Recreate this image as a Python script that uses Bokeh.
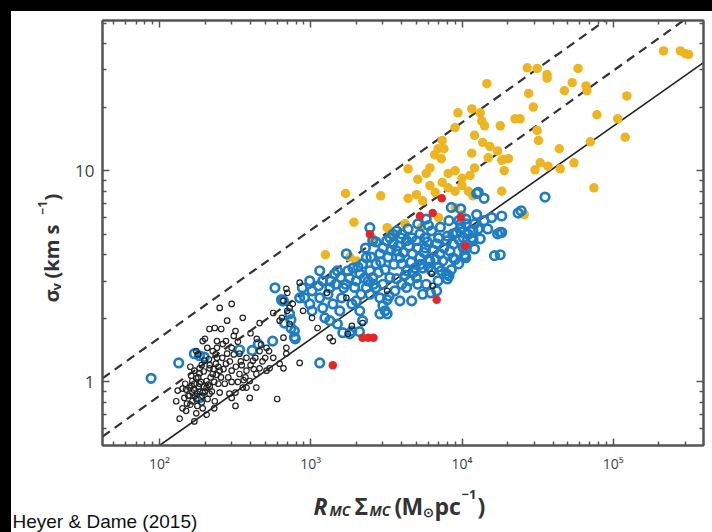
from bokeh.plotting import figure
from bokeh.models import FixedTicker, LogAxis, Range1d, Spacer
from bokeh.layouts import column, row
from bokeh.core.properties import value
from bokeh.embed import file_html
from bokeh.resources import INLINE
import math

# ---------------- data ----------------
black_pts = [
    (250, 2.24), (300, 2.34), (355, 2.01), (280, 1.95), (214, 1.78), (232, 1.80), (256, 1.78), (318, 1.74),
    (459, 1.90), (565, 2.12), (700, 2.64), (725, 2.24), (645, 2.01), (193, 1.56), (207, 1.45), (225, 1.40),
    (240, 1.30), (198, 1.26), (184, 1.10), (175, 1.04), (165, 1.01), (158, 0.94), (184, 0.98), (205, 1.01),
    (225, 1.09), (245, 0.98), (250, 0.89), (214, 0.88), (175, 0.83), (165, 0.81), (152, 0.79), (142, 0.75),
    (136, 0.67), (150, 0.73), (175, 0.71), (193, 0.75), (132, 0.91), (142, 0.93), (300, 1.45), (338, 1.36),
    (376, 1.30), (415, 1.26), (459, 1.40), (510, 1.45), (565, 1.30), (459, 1.16), (437, 1.09), (395, 1.01),
    (355, 0.94), (318, 0.89), (290, 0.88), (300, 0.84), (395, 0.84), (318, 0.77), (376, 0.94), (437, 0.94),
    (510, 1.13), (535, 1.16), (623, 1.22), (690, 1.36), (600, 0.83), (275, 1.56), (280, 1.36), (300, 1.13),
    (338, 1.09), (376, 1.13), (175, 1.40), (184, 1.16), (240, 1.56), (262, 1.51), (275, 1.22), (250, 1.13),
    (214, 1.16), (205, 0.94), (232, 0.81), (193, 0.89), (165, 0.89), (146, 0.84), (129, 0.81), (170, 1.13),
    (162, 1.07), (170, 0.65),
    (155, 0.86), (160, 0.78), (168, 0.92), (172, 0.86), (178, 0.77), (185, 0.90), (190, 0.80), (196, 0.95),
    (210, 0.97), (218, 1.05), (228, 1.15), (236, 1.22), (212, 1.28), (190, 1.20), (180, 1.35), (240, 1.45),
    (260, 1.30), (292, 1.25), (320, 1.18), (350, 1.20), (360, 1.02), (420, 1.15), (480, 1.25), (530, 1.40),
    (440, 1.60), (400, 1.70), (330, 1.55), (310, 1.65), (200, 1.60), (160, 1.18), (148, 0.98), (205, 0.70),
    (230, 0.75), (270, 0.98), (330, 1.00),
    (150, 0.92), (158, 0.86), (163, 0.96), (170, 0.98), (178, 0.88), (182, 0.95), (188, 1.00), (192, 0.86),
    (200, 0.90), (208, 0.83), (215, 0.95), (222, 0.90), (230, 1.00), (238, 1.08), (245, 1.18), (255, 1.05),
    (265, 1.15), (285, 1.05), (300, 1.00), (310, 1.35), (345, 1.25), (370, 1.05), (400, 1.20), (430, 1.30),
    (470, 1.50), (500, 1.30), (180, 1.05), (196, 1.12), (215, 1.20), (235, 1.35),
    (690, 2.76), (845, 2.95), (660, 2.42), (700, 2.17), (760, 2.34), (623, 1.95), (725, 1.88), (660, 1.62),
    (690, 1.45), (845, 1.23), (660, 1.16), (890, 2.17), (1020, 2.01), (1110, 1.80), (1336, 1.62), (1400, 1.56),
    (1760, 1.69), (1870, 1.84), (2200, 1.90), (1280, 2.64), (1720, 2.50), (3200, 2.70), (6300, 3.25), (6400, 2.85),
]

blue_pts = [
    (660, 2.42), (725, 2.10), (780, 1.74), (880, 2.79), (912, 2.50), (985, 2.34), (1020, 2.70), (1125, 2.85),
    (1147, 2.50), (1200, 2.24), (1240, 2.01), (1336, 1.95), (1400, 2.34), (1460, 2.90), (1500, 3.36), (1440, 3.25),
    (1580, 3.12), (1650, 2.79), (1760, 3.36), (1900, 3.46), (2110, 3.25), (2000, 3.01), (2200, 3.62), (2330, 3.87),
    (2460, 3.36), (2570, 3.12), (2700, 3.62), (2865, 4.04), (3000, 4.31), (3180, 4.66), (3335, 4.81), (3500, 4.51),
    (3700, 4.17), (3885, 3.87), (4000, 3.62), (4300, 3.36), (4700, 4.04), (5000, 4.66), (5270, 5.02), (5700, 4.81),
    (6300, 5.19), (6800, 4.51), (7150, 4.04), (7450, 3.74), (7900, 4.66), (8700, 5.02), (9800, 5.37), (10600, 5.60),
    (10200, 4.81), (11800, 5.19), (2000, 2.42), (2110, 2.17), (2200, 1.95), (1870, 2.34), (2700, 2.79), (3000, 2.90),
    (3335, 3.12), (3700, 3.08), (4000, 2.90), (4525, 3.01), (5000, 3.12), (5500, 3.46), (6140, 3.74), (4900, 3.46),
    (5270, 3.87), (4650, 4.81), (4000, 5.02), (5700, 4.31), (8330, 4.17), (9500, 3.62), (7900, 3.25), (6950, 3.01),
    (6300, 3.36), (2865, 2.50), (2460, 2.60), (2330, 2.79), (1500, 1.88), (1556, 2.17), (1147, 3.36),
    (1147, 1.23), (1630, 1.71), (1870, 1.74), (2865, 2.10), (3200, 2.10), (3885, 2.42), (3200, 2.45), (8000, 3.07),
    (10500, 3.96), (11800, 4.76), (5100, 2.90), (5800, 2.90),
    (88, 1.04), (134, 1.23), (184, 1.33), (338, 1.42), (410, 1.41), (450, 1.51), (184, 0.84), (580, 2.79),
    (650, 2.42), (670, 1.90), (740, 1.80), (790, 1.60), (560, 1.56),
    (12800, 7.9), (14000, 7.4), (35400, 7.5), (24600, 6.46), (18300, 6.1), (15700, 6.0), (17200, 5.02), (16400, 3.96),
    (10600, 3.87), (12100, 4.26), (8200, 3.18), (11600, 4.81), (13200, 4.76), (9800, 5.6), (10600, 5.9), (8500, 6.7),
    (9800, 6.6), (5800, 5.9), (9500, 5.8), (14000, 5.8), (14800, 5.3), (10200, 4.3), (23500, 6.3), (17900, 5.1),
    (12500, 6.2), (12100, 5.6), (12500, 7.8), (9000, 3.8), (10400, 4.0), (3100, 2.17), (3300, 2.55), (2100, 1.73),
    (1813, 1.69), (640, 2.45), (740, 1.97), (780, 1.63), (170, 1.36), (198, 1.31), (18300, 5.1), (17900, 4.0),
    (4650, 2.42), (5500, 2.60), (6200, 2.64), (6800, 2.70), (7300, 3.36), (8700, 3.87), (10600, 4.31), (11800, 4.66),
    (1720, 4.04), (1336, 2.79), (1200, 3.01), (985, 3.01), (845, 2.50), (1020, 2.17), (2460, 5.37), (2570, 4.66),
    (3700, 5.19), (4300, 4.66),
    (1300, 2.6), (1350, 3.0), (1600, 2.5), (1700, 2.9), (1800, 3.1), (1950, 2.8), (2050, 3.5), (2150, 2.6),
    (2250, 3.1), (2400, 3.0), (2500, 3.9), (2600, 2.9), (2800, 3.3), (2900, 3.7), (3100, 3.4), (3250, 3.9),
    (3400, 4.2), (3550, 3.6), (3800, 4.4), (3950, 4.8), (4100, 4.1), (4200, 3.2), (4450, 4.4), (4600, 3.7),
    (4800, 3.3), (5100, 4.3), (5300, 3.6), (5600, 4.1), (5900, 4.6), (6000, 3.5), (6500, 4.2), (6700, 3.8),
    (7000, 4.8), (7600, 4.3), (8000, 4.9), (8800, 4.5), (9200, 5.1), (9600, 4.7), (11000, 5.0), (12800, 5.3),
    (2300, 4.3), (2700, 4.6), (3500, 5.0), (4400, 5.3), (5100, 5.6), (6000, 5.5), (7200, 5.4), (8200, 5.8),
    (3000, 2.3), (3600, 2.7), (4300, 2.8), (7000, 3.5), (8500, 3.4),
]

yellow_pts = [
    (215000, 36.9), (278000, 36.9), (300000, 35.8), (315000, 35.5), (27000, 30.7), (31400, 30.5), (36500, 28.5),
    (36500, 27.4), (58500, 30.5), (27600, 23.2), (29600, 20.0), (53500, 26.1), (47500, 23.9), (66000, 25.2),
    (67000, 23.9), (123000, 22.6), (24200, 17.6), (17900, 16.3), (78000, 18.4), (107000, 17.6), (120000, 14.4),
    (31400, 15.5), (32000, 13.9), (70500, 13.7), (44000, 12.7), (18800, 11.3), (20300, 11.4), (32900, 10.9),
    (30400, 10.1), (37000, 10.5), (44600, 10.2), (55000, 10.9), (74500, 8.3), (25800, 6.2),
    (14600, 25.8), (9400, 18.8), (11600, 19.6), (13200, 18.8), (13500, 17.2), (14100, 16.3), (9000, 16.0),
    (22400, 17.6), (7400, 13.9), (12100, 14.7), (13700, 13.6), (15300, 13.0), (6950, 12.7), (7600, 12.7),
    (11600, 12.1), (7300, 11.4), (6600, 11.9),
    (6140, 10.3), (5800, 9.7), (4400, 10.2), (5100, 9.1), (6140, 8.5), (7400, 8.8), (8100, 8.3), (9000, 8.0),
    (4400, 7.4), (5000, 7.7), (5500, 7.2), (6650, 7.9), (10000, 9.2), (11300, 9.5), (12100, 10.3), (14900, 11.5),
    (18300, 11.2), (17200, 12.4),
    (3200, 5.37), (3335, 5.19), (3600, 4.9), (2900, 7.6), (1700, 7.8), (1250, 4.0), (1930, 5.7), (5400, 5.4),
    (1813, 3.9), (2000, 3.74), (2550, 4.8),
    (8100, 9.7), (9000, 10.0), (10000, 8.5), (11000, 8.0), (11800, 7.6), (18300, 8.0), (19000, 10.0),
    (9000, 6.7), (10000, 6.2), (7000, 6.0), (4200, 5.6),
]

red_pts = [
    (2460, 5.0), (2200, 1.62), (2400, 1.62), (2600, 1.62), (1400, 1.20), (6800, 2.45), (7350, 7.4),
    (6400, 6.3), (9800, 6.0), (10500, 4.4), (5270, 6.1),
]

# reference lines (end points read at the frame edges)
virial_x = [100, 395000]
virial_y = [0.5, 32.5]
upper_x = [42, 88500]
upper_y = [1.04, 51.4]
lower_x = [42, 291000]
lower_y = [0.551, 51.4]

x_range = (42, 395000)
y_range = (0.5, 51.4)
x_major = [100, 1000, 10000, 100000]
x_major_labels = ["10²", "10³", "10⁴", "10⁵"]
x_minor = [50, 60, 70, 80, 90, 200, 300, 400, 500, 600, 700, 800, 900,
           2000, 3000, 4000, 5000, 6000, 7000, 8000, 9000,
           20000, 30000, 40000, 50000, 60000, 70000, 80000, 90000, 200000, 300000]
y_major = [1, 10]
y_major_labels = ["1", "10"]
y_minor = [0.6, 0.7, 0.8, 0.9, 2, 3, 4, 5, 6, 7, 8, 9, 20, 30, 40, 50]

# axis title pieces (text, font size, style) and their page positions
x_title = [("R", "23px", "bold italic"), ("MC", "14px", "bold italic"), ("Σ", "23px", "bold"),
           ("MC", "14px", "bold italic"), ("(", "23px", "bold"), ("M", "23px", "bold"),
           ("⊙", "13px", "bold"), ("pc", "23px", "bold"), ("−1", "13px", "bold"), (")", "23px", "bold")]
x_title_pos = [(313, 505), (329, 510), (354, 505), (369, 510), (394, 505), (401, 505),
               (422, 511), (434, 505), (461, 494), (477, 505)]
y_title = [("σ", "20px", "bold"), ("v", "13px", "bold"), ("(km s", "20px", "bold"),
           ("−1", "12px", "bold"), (")", "20px", "bold")]
y_title_pos = [(51, 302), (55, 290), (51, 278), (42, 214), (51, 200)]
source_note = "Heyer & Dame (2015)"


def unzip(pts):
    return [a for a, b in pts], [b for a, b in pts]


W, H = 712, 532
TOP, STRIP, LEFTW, BOTH = 11, 11, 59, 47
MAIN_W, MAIN_H = W - STRIP - LEFTW, H - TOP - BOTH
FR_TOP, FR_BOT = 9, 40   # borders of the main figure above / below its frame

p = figure(width=MAIN_W, height=MAIN_H, x_axis_type="log", y_axis_type="log",
           x_range=x_range, y_range=y_range, output_backend="svg",
           toolbar_location=None, min_border_left=32, min_border_right=9,
           min_border_top=FR_TOP, min_border_bottom=FR_BOT)
p.background_fill_color = "white"
p.border_fill_color = "white"
p.outline_line_color = "#555555"
p.outline_line_width = 2
p.grid.grid_line_color = None

AX = "#555555"


def style_axis(ax, ticks, minor, labels, show_labels, font_size):
    ax.ticker = FixedTicker(ticks=ticks, minor_ticks=minor)
    ax.major_label_overrides = {t: l for t, l in zip(ticks, labels)}
    ax.axis_line_color = AX
    ax.axis_line_width = 2
    ax.major_tick_line_color = AX
    ax.minor_tick_line_color = AX
    ax.major_tick_line_width = 1.5
    ax.minor_tick_line_width = 1.5
    ax.major_tick_in = 7
    ax.major_tick_out = 0
    ax.minor_tick_in = 4
    ax.minor_tick_out = 0
    ax.major_label_text_color = "#444444"
    ax.major_label_text_font = "Open Sans"
    if show_labels:
        ax.major_label_text_font_size = font_size
        ax.major_label_standoff = 8
    else:
        ax.major_label_text_font_size = "0px"
        ax.major_label_standoff = 0


style_axis(p.xaxis[0], x_major, x_minor, x_major_labels, True, "14px")
style_axis(p.yaxis[0], y_major, y_minor, y_major_labels, True, "17px")
top_ax = LogAxis()
right_ax = LogAxis()
style_axis(top_ax, x_major, x_minor, x_major_labels, False, "0px")
style_axis(right_ax, y_major, y_minor, y_major_labels, False, "0px")
p.add_layout(top_ax, "above")
p.add_layout(right_ax, "right")

# lines
p.line(virial_x, virial_y, line_color="#222222", line_width=1.6)
p.line(upper_x, upper_y, line_color="#333333", line_width=2.2, line_dash="9 6")
p.line(lower_x, lower_y, line_color="#333333", line_width=2.2, line_dash="9 6")

# points
yx, yy = unzip(yellow_pts)
p.scatter(yx, yy, marker="circle", size=9.5, fill_color="#ecb521", line_color=None)
bx, by = unzip(blue_pts)
p.scatter(bx, by, marker="circle", size=8.5, fill_color=None, line_color="#1f7dc3", line_width=2.7)
rx, ry = unzip(red_pts)
p.scatter(rx, ry, marker="circle", size=8.5, fill_color="#e0282c", line_color=None)
kx, ky = unzip(black_pts)
p.scatter(kx, ky, marker="circle", size=5.5, fill_color=None, line_color="#222222", line_width=1.2)


def blank(w, h, x0, y0, top=0, bottom=0):
    f = figure(width=w, height=h, x_range=Range1d(x0, x0 + w),
               y_range=Range1d(y0 + h - bottom, y0 + top),
               output_backend="svg", toolbar_location=None, min_border=0,
               min_border_left=0, min_border_right=0,
               min_border_top=top, min_border_bottom=bottom,
               x_axis_location=None, y_axis_location=None)
    f.outline_line_color = None
    f.grid.grid_line_color = None
    f.background_fill_color = "white"
    f.border_fill_color = "white"
    return f


def put(f, pieces, positions, angle=0, color="#333333", font="Open Sans"):
    for (txt, size, style), (x, y) in zip(pieces, positions):
        f.text(x=[x], y=[y], text=[txt], text_font=value(font), text_font_size=size,
               text_font_style=style, text_color=color, text_baseline="alphabetic",
               text_align="left", angle=angle)


# left panel with the y title (same borders as the main figure so frames line up)
left_fig = blank(LEFTW, MAIN_H, STRIP, TOP, top=FR_TOP, bottom=FR_BOT)
put(left_fig, y_title, y_title_pos, angle=math.pi / 2)

# bottom panel: x title + source note
bot_fig = blank(W - STRIP, BOTH, STRIP, TOP + MAIN_H)
put(bot_fig, x_title, x_title_pos)
put(bot_fig, [(source_note, "19px", "normal")], [(12, 521)], color="#111111", font="Liberation Sans")

BLACK = {"background-color": "black"}
layout = column(
    Spacer(width=W, height=TOP, styles=BLACK),
    row(Spacer(width=STRIP, height=MAIN_H, styles=BLACK), left_fig, p, spacing=0),
    row(Spacer(width=STRIP, height=BOTH, styles=BLACK), bot_fig, spacing=0),
    spacing=0, styles={"background-color": "white"},
)
open("out.html", "w").write(file_html(layout, INLINE))
